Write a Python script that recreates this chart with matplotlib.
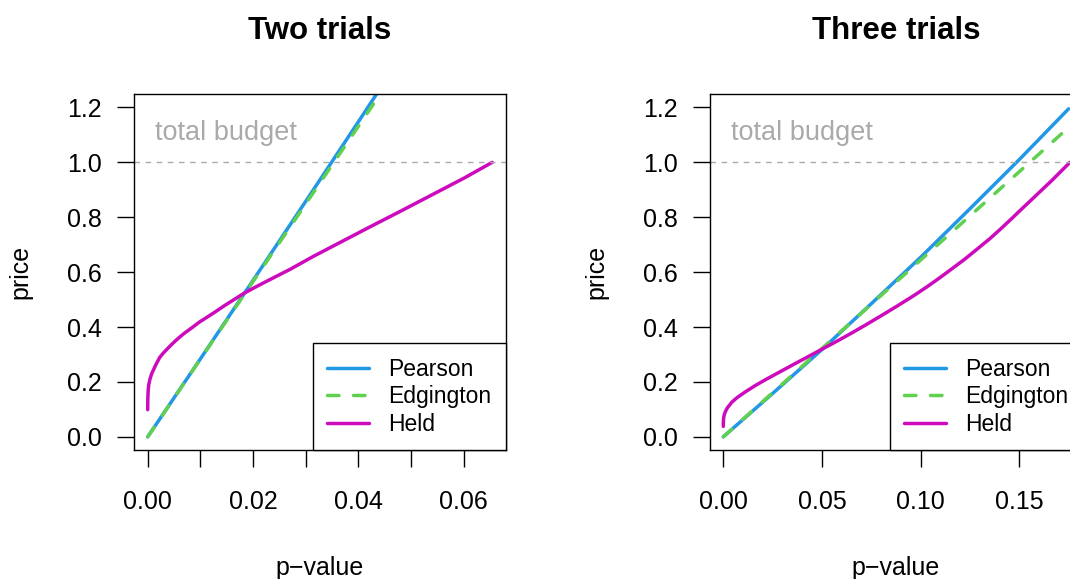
import matplotlib
matplotlib.use("Agg")
import matplotlib.pyplot as plt

plt.rcParams['font.family'] = ['Liberation Sans', 'DejaVu Sans']

# --- two trials: p-value -> price ---
p2_pearson = [0.0, 0.01, 0.02, 0.03, 0.04, 0.045]
price2_pearson = [0.0, 0.284, 0.570, 0.858, 1.148, 1.294]
p2_edgington = [0.0, 0.045]
price2_edgington = [0.0, 1.273]
p2_held = [0.0, 0.00002, 0.0001, 0.0002, 0.0004, 0.0006, 0.0008, 0.001, 0.0015,
           0.0023, 0.003, 0.004, 0.005, 0.0061, 0.007, 0.0085, 0.0098, 0.0112,
           0.0128, 0.0145, 0.0163, 0.0182, 0.0203, 0.0225, 0.027, 0.0315,
           0.0365, 0.042, 0.048, 0.054, 0.060, 0.0654]
price2_held = [0.099, 0.140, 0.172, 0.190, 0.208, 0.221, 0.232, 0.240, 0.261,
               0.290, 0.306, 0.326, 0.345, 0.364, 0.378, 0.399, 0.418, 0.435,
               0.455, 0.477, 0.499, 0.522, 0.544, 0.566, 0.610, 0.658,
               0.708, 0.763, 0.822, 0.882, 0.942, 1.0]

# --- three trials ---
p3_pearson = [0.0, 0.025, 0.05, 0.075, 0.1, 0.125, 0.15, 0.175]
price3_pearson = [0.0, 0.158, 0.318, 0.485, 0.654, 0.831, 1.010, 1.195]
p3_edgington = [0.0, 0.175]
price3_edgington = [0.0, 1.127]
p3_held = [0.0, 0.00005, 0.0002, 0.0005, 0.001, 0.002, 0.0043, 0.007, 0.011,
           0.016, 0.0211, 0.029, 0.038, 0.0445, 0.0515, 0.058, 0.065, 0.072,
           0.0795, 0.088, 0.0971, 0.1035, 0.1098, 0.116, 0.1225, 0.129,
           0.1351, 0.1405, 0.146, 0.1515, 0.1571, 0.1665, 0.1757]
price3_held = [0.038, 0.058, 0.070, 0.081, 0.091, 0.105, 0.126, 0.143, 0.163,
               0.186, 0.207, 0.238, 0.273, 0.298, 0.325, 0.350, 0.378, 0.407,
               0.439, 0.476, 0.517, 0.548, 0.580, 0.613, 0.648, 0.686,
               0.722, 0.757, 0.794, 0.832, 0.870, 0.934, 1.0]

yticks = [0.0, 0.2, 0.4, 0.6, 0.8, 1.0, 1.2]
ytick_labels = ["0.0", "0.2", "0.4", "0.6", "0.8", "1.0", "1.2"]
xticks2 = [0.0, 0.01, 0.02, 0.03, 0.04, 0.05, 0.06]
xtick_labels2 = ["0.00", "", "0.02", "", "0.04", "", "0.06"]
xticks3 = [0.0, 0.05, 0.10, 0.15]
xtick_labels3 = ["0.00", "0.05", "0.10", "0.15"]

BLUE = '#2297E6'
GREEN = '#61D04F'
MAGENTA = '#CD0BBC'
GREY = '#AAAAAA'

W, H = 1070, 579
fig = plt.figure(figsize=(W / 100, H / 100), dpi=100)


def panel(ax, title, pear, edg, held, xlim, xticks, xlabels):
    ax.plot(pear[0], pear[1], color=BLUE, lw=2.5, solid_capstyle='round',
            label='Pearson')
    ax.plot(edg[0], edg[1], color=GREEN, lw=2.5, dashes=(3.3, 4.2),
            dash_capstyle='round', label='Edgington')
    ax.plot(held[0], held[1], color=MAGENTA, lw=2.5, solid_capstyle='round',
            solid_joinstyle='round', label='Held')
    ax.axhline(1.0, color=GREY, lw=1.0, dashes=(4, 4))
    ax.text(0.057, 1.081, "total budget", color=GREY, fontsize=19.5,
            transform=ax.get_yaxis_transform(), va='baseline', ha='left')

    ax.set_xlim(*xlim)
    ax.set_ylim(-0.048, 1.248)
    ax.set_xticks(xticks, xlabels)
    ax.set_yticks(yticks, ytick_labels)
    ax.tick_params(direction='out', length=12.2, width=1.0, labelsize=18,
                   color='black')
    ax.tick_params(axis='x', pad=16.5)
    ax.tick_params(axis='y', pad=11)
    for s in ax.spines.values():
        s.set_linewidth(1.0)
        s.set_color('black')

    ax.set_title(title, fontsize=22.5, fontweight='bold', pad=39.5)
    ax.set_xlabel("p\u2212value", fontsize=18)
    ax.set_ylabel("price", fontsize=18)
    ax.xaxis.set_label_coords(0.5, -0.298)
    ax.yaxis.set_label_coords(-0.272, 0.5)

    leg = ax.legend(loc='lower right', bbox_to_anchor=(1, 0), borderaxespad=0,
                    fontsize=16.5, frameon=True, fancybox=False, framealpha=1,
                    edgecolor='black', borderpad=0.62, handlelength=1.83,
                    handletextpad=0.83, labelspacing=0.2)
    leg.get_frame().set_linewidth(1.0)


axw = 372 / W
axh = 355.7 / H
axb = 129 / H
ax1 = fig.add_axes([133.7 / W, axb, axw, axh])
ax2 = fig.add_axes([710 / W, axb, axw, axh])

panel(ax1, "Two trials", (p2_pearson, price2_pearson),
      (p2_edgington, price2_edgington), (p2_held, price2_held),
      (-0.00266, 0.06797), xticks2, xtick_labels2)
panel(ax2, "Three trials", (p3_pearson, price3_pearson),
      (p3_edgington, price3_edgington), (p3_held, price3_held),
      (-0.00674, 0.1818), xticks3, xtick_labels3)

fig.savefig("out.png", dpi=100)
